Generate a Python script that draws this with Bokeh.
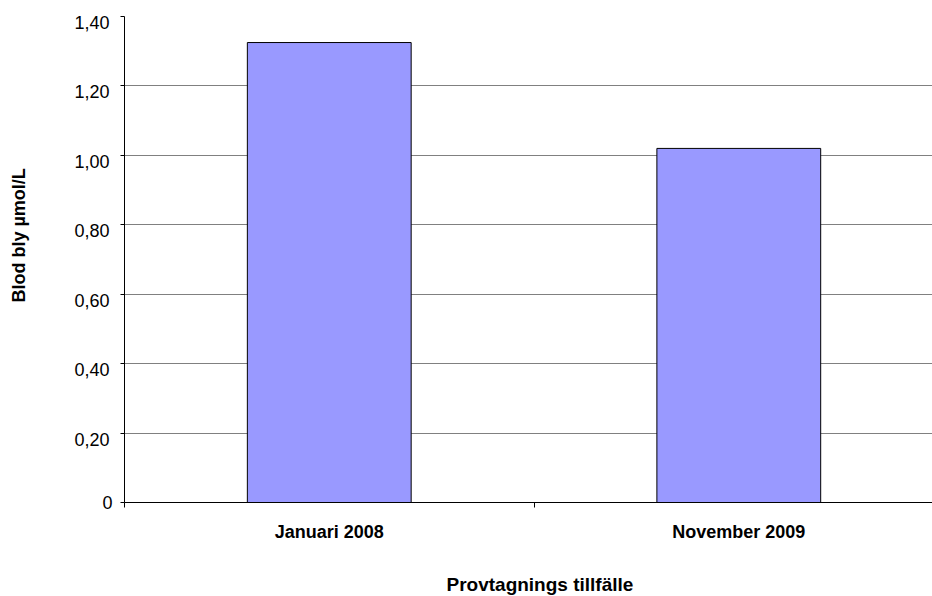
from bokeh.plotting import figure
from bokeh.models import Range1d, FixedTicker, ColumnDataSource, LinearAxis, Title
from bokeh.embed import file_html
from bokeh.resources import INLINE

# ---- data ----
categories = ["Januari 2008", "November 2009"]
values = [1.325, 1.02]
y_ticks = [0, 0.2, 0.4, 0.6, 0.8, 1.0, 1.2, 1.4]
y_tick_labels = ["0", "0,20", "0,40", "0,60", "0,80", "1,00", "1,20", "1,40"]
x_title = "Provtagnings tillfälle"
y_title = "Blod bly µmol/L"

FONT = "Liberation Sans"
Y_MAX = 1.4
X_END = 1.973

# ---- layout (pixels) ----
W, H = 932, 596
F_LEFT, F_TOP, F_BOTTOM = 124, 16, 502
PX_PER_Y = (F_BOTTOM - F_TOP) / Y_MAX
LABEL_SHIFT = 6 / PX_PER_Y  # tick labels sit ~6px below their gridlines

xpos = [i + 0.5 for i in range(len(categories))]
src = ColumnDataSource(dict(x=xpos, top=values, cat=categories))

p = figure(width=W, height=H, output_backend="svg", toolbar_location=None,
           x_range=Range1d(0, X_END), y_range=Range1d(0, Y_MAX),
           min_border_left=F_LEFT, min_border_right=0, min_border_top=F_TOP,
           min_border_bottom=H - F_BOTTOM)
p.outline_line_color = None
p.background_fill_color = "white"
p.border_fill_color = "white"

p.vbar(x="x", top="top", width=0.4, bottom=0, source=src,
       fill_color="#9999FF", line_color="black", line_width=1)


def spacer(size, at):
    # blank axis (white tick on white border, empty label): only reserves space
    ax = LinearAxis(ticker=FixedTicker(ticks=[at], minor_ticks=[]))
    ax.major_label_overrides = {at: ""}
    ax.major_label_text_font_size = "1px"
    ax.major_label_standoff = 0
    ax.major_tick_out = size
    ax.major_tick_in = 0
    ax.axis_line_color = None
    ax.major_tick_line_color = "white"
    ax.minor_tick_line_color = None
    return ax


# main y axis: line, ticks and the "0" label
yax = p.yaxis[0]
yax.ticker = FixedTicker(ticks=y_ticks, minor_ticks=[])
yax.major_label_overrides = {t: (l if t == 0 else "") for t, l in zip(y_ticks, y_tick_labels)}
yax.major_label_standoff = 8
yax.major_label_text_font = FONT
yax.major_label_text_font_size = "18px"
yax.major_label_text_color = "black"
yax.major_tick_out = 4
yax.major_tick_in = 0
yax.major_tick_line_color = "black"
yax.axis_line_color = "black"

# label axis: remaining tick labels, drawn a few px below their gridlines
p.extra_y_ranges = {"lab": Range1d(LABEL_SHIFT, Y_MAX + LABEL_SHIFT)}
lax = LinearAxis(y_range_name="lab", ticker=FixedTicker(ticks=y_ticks[1:], minor_ticks=[]))
lax.major_label_overrides = {t: l for t, l in zip(y_ticks[1:], y_tick_labels[1:])}
lax.axis_line_color = None
lax.major_tick_line_color = None
lax.minor_tick_line_color = None
lax.major_tick_out = 0
lax.major_tick_in = 0
lax.major_label_text_font = FONT
lax.major_label_text_font_size = "18px"
lax.major_label_text_color = "black"
lax.major_label_standoff = -10
p.add_layout(lax, "left")
p.add_layout(spacer(42, 0.7), "left")
p.add_layout(Title(text=y_title, align="left", offset=200, standoff=0,
                   vertical_align="middle", text_font=FONT, text_font_style="bold",
                   text_font_size="18px", text_color="black"), "left")

# x axis
xax = p.xaxis[0]
xax.ticker = FixedTicker(ticks=xpos, minor_ticks=[0, 1, 2])
xax.major_label_overrides = {x: c for x, c in zip(xpos, categories)}
xax.major_tick_out = 0
xax.major_tick_in = 0
xax.minor_tick_out = 5
xax.minor_tick_in = 0
xax.minor_tick_line_color = "black"
xax.axis_line_color = "black"
xax.major_label_text_font = FONT
xax.major_label_text_font_style = "bold"
xax.major_label_text_font_size = "18px"
xax.major_label_text_color = "black"
xax.major_label_standoff = 14
p.add_layout(spacer(27, 1.0), "below")
p.add_layout(Title(text=x_title, align="left", offset=322, standoff=0,
                   vertical_align="bottom", text_font=FONT, text_font_style="bold",
                   text_font_size="19px", text_color="black"), "below")

p.xgrid.grid_line_color = None
p.ygrid.ticker = FixedTicker(ticks=y_ticks)
p.ygrid.grid_line_color = "#808080"
p.ygrid.grid_line_width = 1

open("out.html", "w").write(file_html(p, INLINE))
